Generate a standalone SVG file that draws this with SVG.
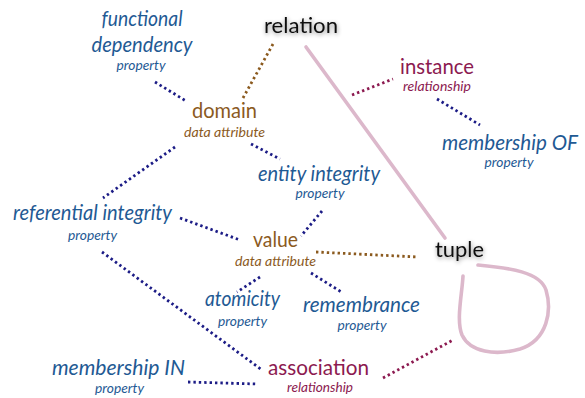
<svg xmlns="http://www.w3.org/2000/svg" width="585" height="398" viewBox="0 0 585 398">
<style>
text{font-family:Lato,"Open Sans","Liberation Sans",sans-serif;text-anchor:middle}
.m{font-size:21px}
.s{font-size:13.5px;font-style:italic}
.it{font-style:italic}
.blue{fill:#1f5a94}
.brown{fill:#8b5a1e}
.maroon{fill:#8c1a50}
.black{fill:#111}
.dot{fill:none;stroke-width:2.8;stroke-dasharray:2.4 3}
.dn{stroke:#1c1c86}
.db{stroke:#8b5a1e}
.dm{stroke:#8c1a50}
.pink{fill:none;stroke:#dcb8cb;stroke-width:3.6;stroke-linecap:round}
</style>
<defs>
<filter id="sh" x="-20%" y="-40%" width="140%" height="180%">
<feDropShadow dx="0.5" dy="1.5" stdDeviation="2" flood-color="#000" flood-opacity="0.45"/>
</filter>
</defs>
<g id="connectors">
<path class="pink" d="M306,47 L445,238"/>
<path class="pink" d="M478,265 C510,268 540,272 546,290 C552,310 548,340 520,349 C495,356 470,352 462,335 C456,320 462,295 463,276"/>
<path class="dot dn" d="M155,82 L186,101"/>
<path class="dot db" d="M273,44 L243,98"/>
<path class="dot dn" d="M175,147 L103,198"/>
<path class="dot dn" d="M251,144 L280,159"/>
<path class="dot dn" d="M180,218 L240,240"/>
<path class="dot dn" d="M322,211 L301,236"/>
<path class="dot db" d="M316,252 L418,257"/>
<path class="dot dn" d="M311,273 L343,293"/>
<path class="dot dn" d="M260,277 L237,292"/>
<path class="dot dn" d="M102,252 L262,370"/>
<path class="dot dn" d="M188,382 L257,384"/>
<path class="dot dm" d="M383,378 L453,340"/>
<path class="dot dm" d="M352,95 L393,79"/>
<path class="dot dn" d="M437,99 L480,125"/>
</g>
<g id="functional-dependency">
<text class="m it blue" x="142" y="26" textLength="81" lengthAdjust="spacingAndGlyphs">functional</text>
<text class="m it blue" x="142" y="52" textLength="101" lengthAdjust="spacingAndGlyphs">dependency</text>
<text class="s blue" x="141" y="70" textLength="49" lengthAdjust="spacingAndGlyphs">property</text>
</g>
<g id="relation">
<text class="m black" x="301" y="33" textLength="74" lengthAdjust="spacingAndGlyphs" filter="url(#sh)">relation</text>
</g>
<g id="domain">
<text class="m brown" x="224.5" y="118" textLength="65" lengthAdjust="spacingAndGlyphs">domain</text>
<text class="s brown" x="224.5" y="137" textLength="81" lengthAdjust="spacingAndGlyphs">data attribute</text>
</g>
<g id="instance">
<text class="m maroon" x="437" y="74" textLength="74" lengthAdjust="spacingAndGlyphs">instance</text>
<text class="s maroon" x="437" y="91" textLength="68" lengthAdjust="spacingAndGlyphs">relationship</text>
</g>
<g id="membership-of">
<text class="m it blue" x="510" y="150" textLength="136" lengthAdjust="spacingAndGlyphs">membership OF</text>
<text class="s blue" x="509" y="167" textLength="49" lengthAdjust="spacingAndGlyphs">property</text>
</g>
<g id="entity-integrity">
<text class="m it blue" x="319" y="181" textLength="122" lengthAdjust="spacingAndGlyphs">entity integrity</text>
<text class="s blue" x="320" y="198" textLength="49" lengthAdjust="spacingAndGlyphs">property</text>
</g>
<g id="referential-integrity">
<text class="m it blue" x="92.5" y="220" textLength="159" lengthAdjust="spacingAndGlyphs">referential integrity</text>
<text class="s blue" x="92.5" y="240" textLength="49" lengthAdjust="spacingAndGlyphs">property</text>
</g>
<g id="value">
<text class="m brown" x="275.5" y="247" textLength="45" lengthAdjust="spacingAndGlyphs">value</text>
<text class="s brown" x="275.5" y="266" textLength="81" lengthAdjust="spacingAndGlyphs">data attribute</text>
</g>
<g id="tuple">
<text class="m black" x="459.5" y="257" textLength="49" lengthAdjust="spacingAndGlyphs" filter="url(#sh)">tuple</text>
</g>
<g id="atomicity">
<text class="m it blue" x="242.5" y="306" textLength="75" lengthAdjust="spacingAndGlyphs">atomicity</text>
<text class="s blue" x="242.5" y="326" textLength="49" lengthAdjust="spacingAndGlyphs">property</text>
</g>
<g id="remembrance">
<text class="m it blue" x="361.5" y="312" textLength="117" lengthAdjust="spacingAndGlyphs">remembrance</text>
<text class="s blue" x="362" y="330" textLength="49" lengthAdjust="spacingAndGlyphs">property</text>
</g>
<g id="membership-in">
<text class="m it blue" x="118.5" y="375" textLength="133" lengthAdjust="spacingAndGlyphs">membership IN</text>
<text class="s blue" x="119.5" y="393" textLength="49" lengthAdjust="spacingAndGlyphs">property</text>
</g>
<g id="association">
<text class="m maroon" x="318.5" y="375" textLength="101" lengthAdjust="spacingAndGlyphs">association</text>
<text class="s maroon" x="320" y="392" textLength="66" lengthAdjust="spacingAndGlyphs">relationship</text>
</g>
</svg>
